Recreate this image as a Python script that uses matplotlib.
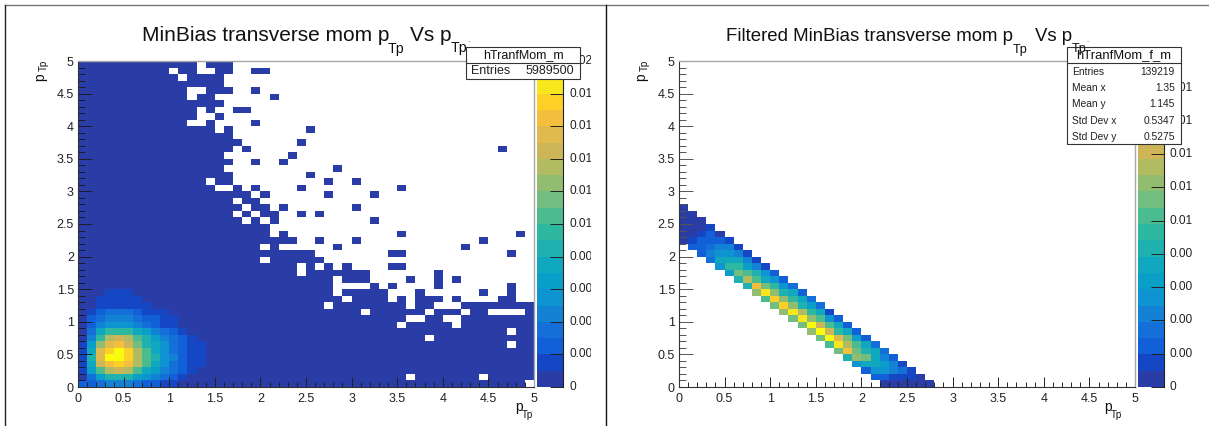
import numpy as np
import matplotlib
matplotlib.use("Agg")
import matplotlib.pyplot as plt
from matplotlib.colors import ListedColormap, BoundaryNorm
from matplotlib.lines import Line2D
from matplotlib.patches import Rectangle
from matplotlib.ticker import MultipleLocator
from matplotlib.transforms import Bbox

plt.rcParams['font.family'] = ['Liberation Sans', 'DejaVu Sans']

W, H = 1209, 426

palette = ['#2a3ca6', '#1546c4', '#1260d8', '#1470d8', '#1482d4', '#0e94d0', '#0a9fc8',
           '#10a8bf', '#1fb0b0', '#2fb8a0', '#4bbc90', '#72be80', '#92bd70', '#b0bb62',
           '#cdb558', '#e0ba4c', '#f3bf3c', '#fdd028', '#f9e71e', '#f9fb0e']

n_bins = 50
edges = np.arange(n_bins + 1) / 10

# occupied bins of the MinBias histogram, row by row from the bottom (first bin, last bin)
left_filled = [
    [(0, 48)], [(0, 35), (37, 43), (45, 49)], [(0, 49)], [(0, 49)], [(0, 49)], [(0, 49)],
    [(0, 46), (48, 49)], [(0, 37), (39, 49)], [(0, 46), (48, 49)],
    [(0, 34), (36, 40), (42, 49)], [(0, 35), (38, 39), (42, 49)],
    [(0, 30), (32, 37), (39, 41), (43, 44), (49, 49)],
    [(0, 26), (28, 35), (37, 38), (42, 49)],
    [(0, 28), (30, 33), (35, 35), (37, 39), (41, 41), (46, 47)],
    [(0, 27), (29, 33), (37, 37), (44, 44), (47, 47)],
    [(0, 27), (32, 32), (34, 34), (39, 39), (47, 47)],
    [(0, 27), (29, 31), (36, 36), (39, 39), (41, 41)],
    [(0, 23), (25, 31), (39, 39)],
    [(0, 23), (25, 25), (27, 27), (29, 29), (34, 35)],
    [(0, 19), (21, 26)],
    [(0, 25), (34, 35), (47, 47)],
    [(0, 19), (21, 21), (28, 28), (42, 42)],
    [(0, 23), (26, 26), (30, 30), (44, 44)],
    [(0, 20), (22, 22), (35, 35), (48, 48)],
    [(0, 20)],
    [(0, 17), (19, 19), (21, 21), (32, 32)],
    [(0, 16), (18, 18), (20, 21), (24, 24), (26, 26)],
    [(0, 17), (19, 20), (22, 22), (30, 30)],
    [(0, 16), (18, 19)],
    [(0, 18), (20, 20), (27, 27), (32, 32)],
    [(0, 14), (17, 17), (19, 19), (24, 24), (35, 35)],
    [(0, 13), (15, 16), (27, 27), (30, 30)],
    [(0, 16), (25, 25)],
    [(0, 15), (28, 28)],
    [(0, 16), (19, 19), (22, 22)],
    [(0, 15), (23, 23)],
    [(0, 16), (18, 18), (46, 46)],
    [(0, 17), (24, 24)],
    [(0, 16)],
    [(0, 14), (16, 16), (25, 25)],
    [(0, 11), (14, 14), (19, 19)],
    [(0, 12), (15, 15)],
    [(0, 12), (14, 14), (17, 18)],
    [(0, 15)],
    [(0, 11), (13, 14), (21, 21)],
    [(0, 11), (14, 16), (19, 19)],
    [(0, 15)],
    [(0, 10), (12, 15)],
    [(0, 9), (11, 12), (15, 16), (19, 20)],
    [(0, 12), (14, 16)],
]

# colour level per bin in the MinBias peak (base 20 digits), rows from the bottom, from x bin 0
left_peak = ['22344432211', '036888654321', '16adeda764321', '17eghgda753211',
             '18fjjhda854211', '17fhjhda753211', '16cfgeb8753211', '049deda864321',
             '037999764321', '02455543211', '02344432211', '0123332111',
             '00111111', '0011111', '000111']

# filtered histogram, first occupied x bin and colour levels of each row
right_start = [22, 21, 20, 19, 18, 17, 16, 15, 14, 13, 12, 11, 10, 9,
               8, 7, 6, 5, 4, 3, 2, 1, 0, 0, 0, 0, 0, 0]
right_levels = ['000000', '221110', '255431', '577641', '8cb742', 'bgb873', 'aida73',
                'bjfb62', 'cje972', 'bjea72', 'bica52', 'cid971', 'bhc863', 'ahc973',
                'cic872', '8gb953', '8da752', '6ba852', '599641', '377741',
                '245541', '223441', '012221', '00120', '0001', '000', '00', '0']

left_vmax = 0.02
right_vmax = 0.0196
cbar_ticks = [0, 0.002, 0.004, 0.006, 0.008, 0.01, 0.012, 0.014, 0.016, 0.018, 0.02]
cbar_labels = ['0', '0.002', '0.004', '0.006', '0.008', '0.01', '0.012', '0.014', '0.016', '0.018', '0.02']
axis_ticks = [0, 0.5, 1, 1.5, 2, 2.5, 3, 3.5, 4, 4.5, 5]
axis_labels = ['0', '0.5', '1', '1.5', '2', '2.5', '3', '3.5', '4', '4.5', '5']

left_stats = [('Entries', '5989500')]
right_stats = [('Entries', '139219'), ('Mean x', '1.35'), ('Mean y', '1.145'),
               ('Std Dev x', '0.5347'), ('Std Dev y', '0.5275')]


def left_grid():
    z = np.full((n_bins, n_bins), np.nan)
    for r, spans in enumerate(left_filled):
        for a, b in spans:
            z[r, a:b + 1] = 0.5 * left_vmax / 20
    for r, row in enumerate(left_peak):
        for c, ch in enumerate(row):
            z[r, c] = (int(ch, 20) + 0.5) * left_vmax / 20
    return z


def right_grid():
    z = np.full((n_bins, n_bins), np.nan)
    for r, row in enumerate(right_levels):
        for i, ch in enumerate(row):
            z[r, right_start[r] + i] = (int(ch, 20) + 0.5) * right_vmax / 20
    return z


def pix_rect(x0, y0, x1, y1):
    return [x0 / W, 1 - y1 / H, (x1 - x0) / W, (y1 - y0) / H]


def put(fig, x, y, s, size, **kw):
    kw.setdefault('va', 'baseline')
    kw.setdefault('color', '#111111')
    return fig.text(x / W, 1 - y / H, s, fontsize=size, **kw)


def panel(fig, z, vmax, x0, x1, clip_x, ytick_color):
    ax = fig.add_axes(pix_rect(x0, 61, x1, 387))
    norm = BoundaryNorm(np.linspace(0, vmax, 21), 20)
    cmap = ListedColormap(palette)
    mesh = ax.pcolormesh(edges, edges, z, cmap=cmap, norm=norm, linewidth=0)
    ax.set_xlim(0, 5)
    ax.set_ylim(0, 5)
    ax.xaxis.set_minor_locator(MultipleLocator(0.1))
    ax.yaxis.set_minor_locator(MultipleLocator(0.1))
    ax.set_xticks(axis_ticks)
    ax.set_xticklabels(axis_labels)
    ax.set_yticks(axis_ticks)
    ax.set_yticklabels(axis_labels)
    ax.tick_params(axis='x', which='major', direction='in', length=7.5, width=0.7, color='#222222',
                   labelsize=9, labelcolor='#222222', pad=4)
    ax.tick_params(axis='x', which='minor', direction='in', length=3.7, width=0.7, color='#222222')
    ax.tick_params(axis='y', which='major', direction='in', length=10, width=0.7, color=ytick_color,
                   labelsize=9, labelcolor='#222222', pad=3)
    ax.tick_params(axis='y', which='minor', direction='in', length=5, width=0.7, color=ytick_color)
    for side in ['left', 'bottom']:
        ax.spines[side].set_color('#333333')
        ax.spines[side].set_linewidth(0.8)
    for side in ['top', 'right']:
        ax.spines[side].set_color('#a8a8a8')
        ax.spines[side].set_linewidth(1.0)

    cax = fig.add_axes(pix_rect(x1 + 3, 61, x1 + 29, 387))
    cb = fig.colorbar(mesh, cax=cax, spacing='proportional')
    cb.outline.set_visible(False)
    cax.set_ylim(0, vmax)
    cax.set_yticks([t for t in cbar_ticks if t <= vmax])
    cax.set_yticklabels([])
    cax.minorticks_off()
    cax.tick_params(axis='y', direction='in', length=9.5, width=0.7, color='#222222', right=True, left=False)
    cax.spines['right'].set_visible(True)
    cax.spines['right'].set_color('#222222')
    cax.spines['right'].set_linewidth(0.8)
    for t, lab in zip(cbar_ticks, cbar_labels):
        if t > vmax:
            continue
        # labels run past the pad edge in the original, so they get cut there
        txt = fig.text(32 / 26, t, lab, fontsize=8.6, color='#222222', va='center',
                       transform=cax.get_yaxis_transform())
        txt.set_clip_on(True)
        txt.set_clip_box(Bbox([[x1 + 30, 0], [clip_x, H]]))
    return ax, cax


def stats_box(fig, x0, y0, x1, y1, div, name, rows, row_y, size, name_size):
    fig.add_artist(Rectangle((x0 / W, 1 - y1 / H), (x1 - x0) / W, (y1 - y0) / H, transform=fig.transFigure,
                             facecolor='white', edgecolor='#333333', linewidth=0.8, zorder=5))
    fig.add_artist(Line2D([x0 / W, x1 / W], [1 - div / H, 1 - div / H], color='#333333', linewidth=0.8, zorder=6))
    put(fig, (x0 + x1) / 2, (y0 + div) / 2 + 0.5, name, name_size, ha='center', va='center', zorder=7)
    for (a, b), y in zip(rows, row_y):
        put(fig, x0 + 5, y, a, size, va='center', zorder=7, color='#222222')
        put(fig, x1 - 6, y, b, size, va='center', ha='right', zorder=7, color='#222222')


def title_parts(fig, x_main, main, x_sub1, x_vs, x_sub2, x_minus, size):
    put(fig, x_main, 41, main, size, zorder=8)
    put(fig, x_sub1, 53, 'Tp', size * 0.68, zorder=8)
    put(fig, x_vs, 41, 'Vs p', size, zorder=8)
    put(fig, x_sub2, 52, 'Tp', size * 0.68, zorder=8)
    put(fig, x_minus, 43, '-', size * 0.4, zorder=8, color='#888888')


def axis_titles(fig, x_ylab, x_xlab):
    put(fig, x_ylab, 78, 'p', 10, rotation=90, zorder=8)
    put(fig, x_ylab + 6, 69, 'Tp', 7, rotation=90, zorder=8)
    put(fig, x_xlab, 411, 'p', 10, zorder=8)
    put(fig, x_xlab + 7, 418, 'Tp', 7, zorder=8)
    put(fig, x_xlab + 16, 413, '-', 4, zorder=8, color='#888888')


def main():
    fig = plt.figure(figsize=(W / 100, H / 100), dpi=100, facecolor='white')

    panel(fig, left_grid(), left_vmax, 78, 534, 591, '#1c1c2c')
    panel(fig, right_grid(), right_vmax, 679, 1135, 1192, '#555555')

    # pad frames
    fig.add_artist(Line2D([5 / W, 1], [1 - 5 / H, 1 - 5 / H], color='#777777', linewidth=1.0))
    fig.add_artist(Line2D([5 / W, 5 / W], [1 - 5 / H, 0], color='#222222', linewidth=1.0))
    fig.add_artist(Line2D([606 / W, 606 / W], [1 - 5 / H, 0], color='#111111', linewidth=1.0))

    stats_box(fig, 466, 47, 580, 79, 63, 'hTranfMom_m', left_stats, [71.5], 9, 9)
    stats_box(fig, 1067, 47, 1181, 144, 63, 'hTranfMom_f_m', right_stats, [72, 88, 104, 121, 137], 7.4, 9.4)

    title_parts(fig, 142, 'MinBias transverse mom p', 388, 410, 451, 468, 15)
    title_parts(fig, 726, 'Filtered MinBias transverse mom p', 1013, 1035, 1072, 1087, 13.4)

    axis_titles(fig, 33, 515)
    axis_titles(fig, 634, 1104)

    fig.savefig('out.png', dpi=100)


if __name__ == "__main__":
    main()
